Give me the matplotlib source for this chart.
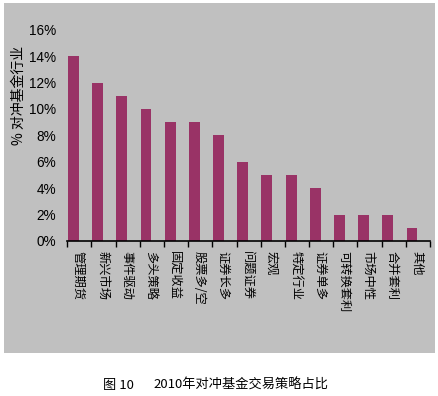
import matplotlib
matplotlib.use('Agg')
import matplotlib.pyplot as plt
from matplotlib.patches import Rectangle

plt.rcParams['font.family'] = ['Noto Sans CJK SC', 'DejaVu Sans']

strategies = ['管理期货', '新兴市场', '事件驱动', '多头策略', '固定收益', '股票多/空', '证券长多',
              '问题证券', '宏观', '特定行业', '证券单多', '可转换套利', '市场中性', '合并套利', '其他']
shares = [14, 12, 11, 10, 9, 9, 8, 6, 5, 5, 4, 2, 2, 2, 1]
y_ticks = [0, 2, 4, 6, 8, 10, 12, 14, 16]
y_tick_labels = [f'{v}%' for v in y_ticks]

W, H = 439, 396
fig = plt.figure(figsize=(W / 100, H / 100), dpi=100)
fig.patch.set_facecolor('white')

# gray chart area, behind the axes
fig.patches.append(Rectangle((4 / W, 1 - 353 / H), 431 / W, 350 / H,
                             transform=fig.transFigure, facecolor='#c0c0c0',
                             edgecolor='none', zorder=-10))

ax = fig.add_axes([67.3 / W, 1 - 241 / H, (430 - 67.3) / W, (241 - 29.8) / H])
ax.set_facecolor('none')

n = len(strategies)
pos = [i + 0.255 for i in range(n)]
ax.bar(pos, shares, width=0.45, color='#993366', zorder=2)

ax.set_xlim(0, n)
ax.set_ylim(0, 16)

ax.set_xticks(range(n + 1))
ax.set_xticklabels([])
ax.tick_params(axis='x', which='major', length=4.5, width=1, color='black', direction='out')
ax.set_xticks([i + 0.45 for i in range(n)], minor=True)
ax.set_xticklabels(strategies, minor=True, rotation=-90, fontsize=8.8, va='top', ha='center')
ax.tick_params(axis='x', which='minor', length=0, pad=7)

ax.set_yticks(y_ticks)
ax.set_yticklabels(y_tick_labels, family=['Liberation Sans'], fontsize=9.8)
ax.tick_params(axis='y', length=0, pad=8)

for s in ['top', 'right', 'left']:
    ax.spines[s].set_visible(False)
ax.spines['bottom'].set_linewidth(1.2)

fig.text(19 / W, 1 - 95 / H, '% 对冲基金行业', rotation=90, fontsize=10,
         ha='center', va='center')

fig.text(103 / W, 11 / H, '图 10', fontsize=9.5, ha='left', va='center')
fig.text(153 / W, 11 / H, '2010年对冲基金交易策略占比', fontsize=9.5, ha='left', va='center')

fig.savefig('out.png', dpi=100)
